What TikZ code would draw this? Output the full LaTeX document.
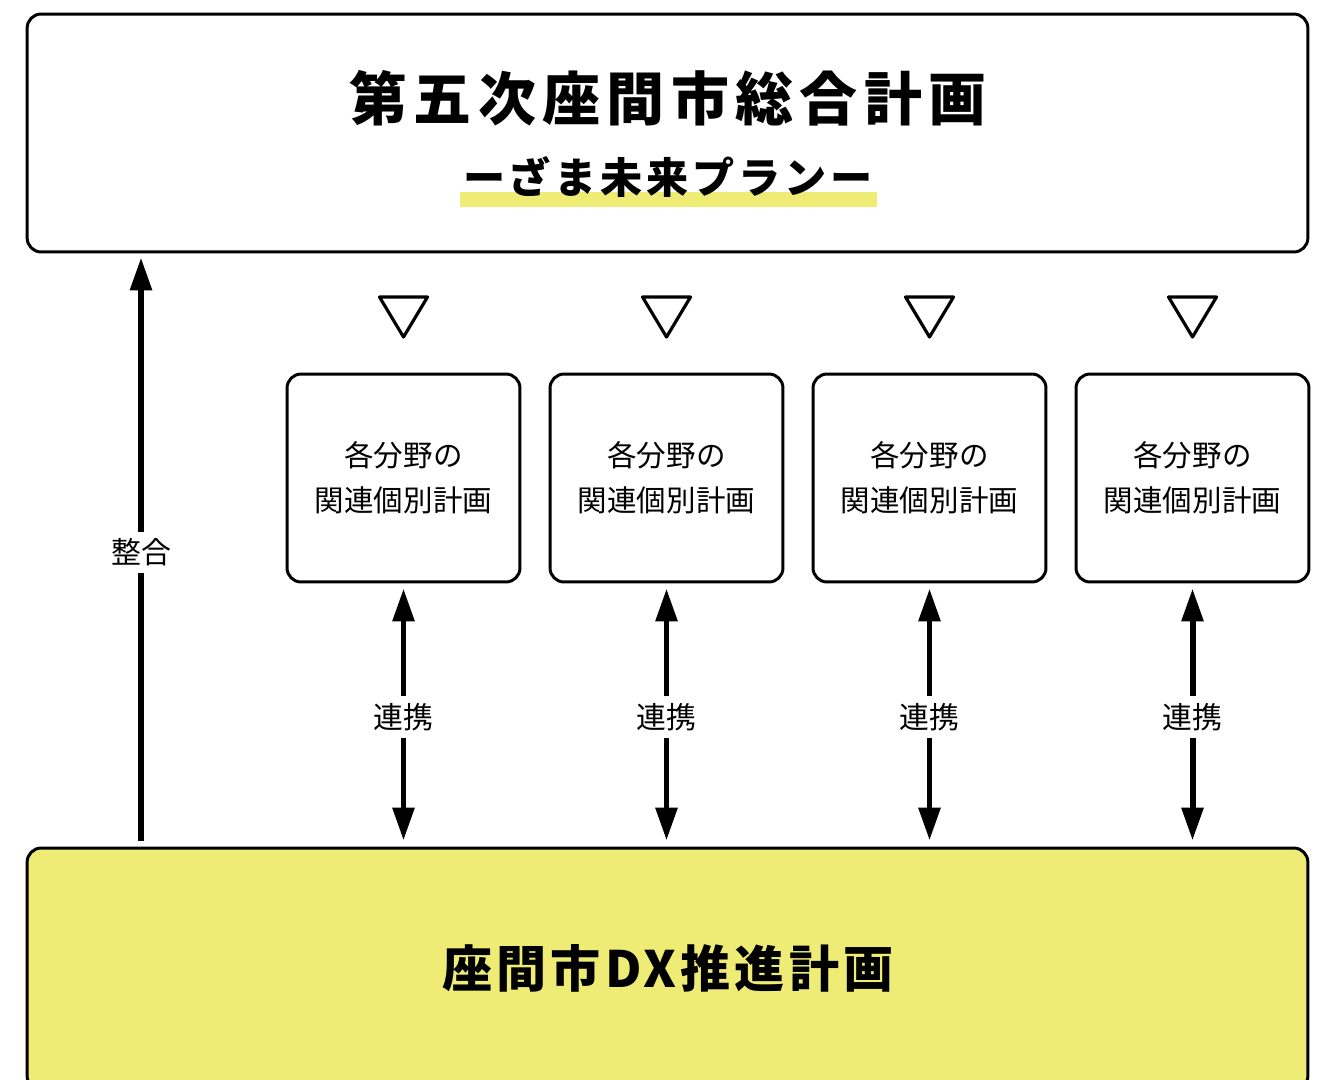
\documentclass[tikz,border=0pt]{standalone}
\usepackage{fontspec}
\setmainfont{Noto Sans CJK JP}
\usetikzlibrary{arrows.meta}
\definecolor{zamayellow}{HTML}{EEEC74}

\tikzset{
  plan/.style={draw,line width=1.7pt,rounded corners=8pt,inner sep=0pt},
  field/.style={plan,minimum width=4.66cm,minimum height=4.16cm,align=center,
    font=\fontsize{16.8}{25.5}\selectfont},
  link/.style={line width=3.4pt,{Triangle[length=0.66cm,width=0.42cm]}-{Triangle[length=0.66cm,width=0.42cm]}},
  tag/.style={fill=white,inner sep=4pt,font=\fontsize{17}{20}\selectfont},
  opentri/.style={line width=1.8pt,line join=round}
}

\begin{document}
\begin{tikzpicture}[x=0.02cm,y=-0.02cm]
\useasboundingbox (0,0) rectangle (1322,1079);
\clip (0,0) rectangle (1322,1079);

% 総合計画
\node[plan,minimum width=25.62cm,minimum height=4.76cm] (sogo) at (667.5,133) {};
\node[font=\fontsize{33}{40}\selectfont\bfseries\addfontfeature{LetterSpace=11}] (title) at (668,98) {第五次座間市総合計画};
\fill[zamayellow] (460,192) rectangle (877,207);
\node[font=\fontsize{24}{30}\selectfont\bfseries\addfontfeature{LetterSpace=9}] (subtitle) at (668,177) {ーざま未来プランー};

% DX推進計画
\node[plan,fill=zamayellow,minimum width=25.62cm,minimum height=4.84cm] (dx) at (667.5,969) {};
\node[font=\fontsize{28.5}{34}\selectfont\bfseries\addfontfeature{LetterSpace=8}] (dxtitle) at (668,968) {座間市DX推進計画};

% 個別計画
\foreach \i/\x in {1/403.5,2/666.5,3/929.5,4/1192.5}{
  \draw[opentri] (\x-24,297) -- (\x+24,297) -- (\x,337) -- cycle;
  \node[field] (field\i) at (\x,478) {各分野の\\関連個別計画};
  \draw[link,shorten <=0.1cm,shorten >=0.12cm] (field\i.south) -- node[tag,yshift=-0.04cm] {連携} (field\i.south |- dx.north);
}

% 整合
\coordinate (seigo) at (141,0);
\draw[link,{Triangle[length=0.66cm,width=0.42cm]}-,shorten <=0.08cm,shorten >=0.12cm] (sogo.south -| seigo) -- node[tag,yshift=-0.05cm] {整合} (dx.north -| seigo);
\end{tikzpicture}
\end{document}
